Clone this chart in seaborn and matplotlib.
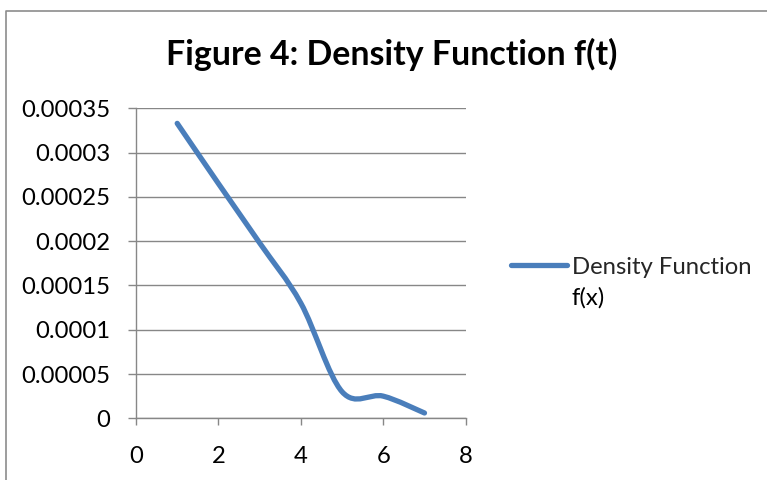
import numpy as np
import pandas as pd
import matplotlib
matplotlib.use("Agg")
import matplotlib.pyplot as plt
from matplotlib.path import Path
from matplotlib.patches import PathPatch
from matplotlib.lines import Line2D
import seaborn as sns

# ---- data ----
t_values = [1, 2, 3, 4, 5, 6, 7]
density_values = [0.000333, 0.000265, 0.000198, 0.00013, 0.00003, 0.000025, 0.000006]
series_label_lines = ["Density Function", "f(x)"]
title_text = "Figure 4: Density Function f(t)"
x_ticks = [0, 2, 4, 6, 8]
x_tick_labels = ["0", "2", "4", "6", "8"]
y_ticks = [0, 0.00005, 0.0001, 0.00015, 0.0002, 0.00025, 0.0003, 0.00035]
y_tick_labels = ["0", "0.00005", "0.0001", "0.00015", "0.0002", "0.00025", "0.0003", "0.00035"]

LINE_COLOR = "#4A7EBB"
GRID_COLOR = "#878787"
FS = 17.2

sns.set_theme(style="white")
plt.rcParams["font.family"] = ["Lato", "DejaVu Sans"]

W, H = 767, 480
fig = plt.figure(figsize=(W / 100, H / 100), dpi=100)
ax = fig.add_axes([136 / W, 1 - 418.3 / H, (465.7 - 136) / W, (418.3 - 108.3) / H])

df = pd.DataFrame({"t": t_values, "density": density_values})
sns.lineplot(data=df, x="t", y="density", ax=ax, color=LINE_COLOR, linewidth=3.8,
             label=series_label_lines[0], solid_capstyle="round")

# Excel-style smoothed line: Bezier segments with control points derived
# from the data points (Catmull-Rom, tension 1/6)
src_line = ax.get_lines()[0]
src_line.set_visible(False)
xs = np.asarray(t_values, dtype=float)
ys = np.asarray(density_values, dtype=float)
n = len(xs)
verts = [(xs[0], ys[0])]
codes = [Path.MOVETO]
for i in range(n - 1):
    p0 = np.array([xs[max(i - 1, 0)], ys[max(i - 1, 0)]])
    p1 = np.array([xs[i], ys[i]])
    p2 = np.array([xs[i + 1], ys[i + 1]])
    p3 = np.array([xs[min(i + 2, n - 1)], ys[min(i + 2, n - 1)]])
    c1 = p1 + (p2 - p0) / 6.0
    c2 = p2 - (p3 - p1) / 6.0
    verts += [tuple(c1), tuple(c2), tuple(p2)]
    codes += [Path.CURVE4] * 3
patch = PathPatch(Path(verts, codes), facecolor="none", edgecolor=LINE_COLOR,
                  linewidth=3.8, capstyle="round", joinstyle="round", zorder=3)
ax.add_patch(patch)

ax.set_xlim(0, 8)
ax.set_ylim(0, 0.00035)
ax.set_xticks(x_ticks)
ax.set_xticklabels(x_tick_labels)
ax.set_yticks(y_ticks)
ax.set_yticklabels(y_tick_labels)
ax.set_xlabel("")
ax.set_ylabel("")

ax.grid(axis="y", color=GRID_COLOR, linewidth=1.0)
ax.grid(axis="x", visible=False)
ax.set_axisbelow(True)
for side in ["top", "right"]:
    ax.spines[side].set_visible(False)
for side in ["left", "bottom"]:
    ax.spines[side].set_color(GRID_COLOR)
    ax.spines[side].set_linewidth(1.0)

ax.tick_params(axis="x", which="major", direction="out", length=5.0, width=1.0,
               color=GRID_COLOR, labelsize=FS, labelcolor="black", pad=15,
               bottom=True)
ax.tick_params(axis="y", which="major", direction="out", length=5.8, width=1.0,
               color=GRID_COLOR, labelsize=FS, labelcolor="black", pad=12.5,
               left=True)

# legend (first line of the label in the legend, wrapped second line below)
handle = Line2D([0], [0], color=LINE_COLOR, linewidth=3.8, solid_capstyle="round")
leg = ax.legend([handle], [series_label_lines[0]], loc="center left",
                bbox_to_anchor=(511 / W, 1 - 267 / H), bbox_transform=fig.transFigure,
                frameon=False, fontsize=FS, handlelength=2.35, handletextpad=0.2,
                borderpad=0, borderaxespad=0)
fig.text(572 / W, 1 - 305 / H, series_label_lines[1], ha="left", va="baseline",
         fontsize=FS, color="black")

# title
fig.text(391.5 / W, 1 - 65 / H, title_text, ha="center", va="baseline",
         fontsize=24.4, fontweight="bold", color="black")

# chart-area border (left and top edges visible)
fig.add_artist(Line2D([5.5 / W, 5.5 / W, 1.0], [0.0, 1 - 10.5 / H, 1 - 10.5 / H],
                      transform=fig.transFigure, color="#8C8C8C", linewidth=1.2))

fig.savefig("out.png", dpi=100)
